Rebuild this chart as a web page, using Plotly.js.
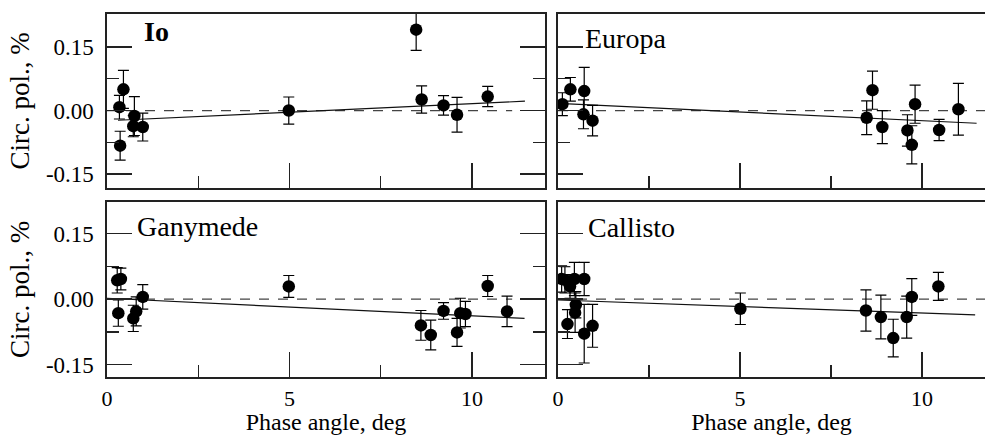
<!DOCTYPE html>
<html>
<head>
<meta charset="utf-8">
<script src="https://cdn.plot.ly/plotly-3.0.1.min.js"></script>
<style>html,body{margin:0;padding:0;background:#fff;}#chart{width:985px;height:435px;}</style>
</head>
<body>
<div id="chart"></div>
<script>
// ---- data (phase angle, deg ; circular polarization, %) ----
const ioX   = [0.34, 0.45, 0.36, 0.75, 0.72, 0.98, 4.98, 8.47, 8.62, 9.22, 9.59, 10.43];
const ioY   = [0.008, 0.050, -0.083, -0.013, -0.037, -0.039, 0.000, 0.191, 0.026, 0.012, -0.010, 0.033];
const ioErr = [0.028, 0.045, 0.034, 0.046, 0.025, 0.033, 0.032, 0.049, 0.032, 0.023, 0.041, 0.024];

const euX   = [0.12, 0.34, 0.72, 0.70, 0.95, 8.48, 8.64, 8.91, 9.60, 9.72, 9.81, 10.47, 11.0];
const euY   = [0.015, 0.050, 0.046, -0.009, -0.024, -0.017, 0.048, -0.039, -0.047, -0.081, 0.015, -0.046, 0.003];
const euErr = [0.027, 0.028, 0.056, 0.034, 0.036, 0.040, 0.045, 0.039, 0.037, 0.045, 0.045, 0.025, 0.061];

const gaX   = [0.28, 0.38, 0.31, 0.72, 0.80, 0.98, 4.98, 8.60, 8.87, 9.22, 9.59, 9.68, 9.82, 10.43, 10.96];
const gaY   = [0.043, 0.046, -0.032, -0.044, -0.028, 0.005, 0.029, -0.060, -0.082, -0.027, -0.076, -0.032, -0.034, 0.030, -0.028];
const gaErr = [0.029, 0.025, 0.030, 0.030, 0.033, 0.028, 0.025, 0.034, 0.034, 0.019, 0.032, 0.034, 0.029, 0.024, 0.035];

const caX   = [0.10, 0.19, 0.33, 0.45, 0.72, 0.49, 0.47, 0.26, 0.72, 0.95, 5.01, 8.46, 8.87, 9.21, 9.58, 9.72, 10.45];
const caY   = [0.046, 0.044, 0.029, 0.046, 0.046, -0.013, -0.031, -0.057, -0.079, -0.061, -0.022, -0.026, -0.041, -0.089, -0.041, 0.005, 0.029];
const caErr = [0.030, 0.030, 0.027, 0.038, 0.038, 0.030, 0.045, 0.033, 0.067, 0.049, 0.036, 0.047, 0.050, 0.043, 0.048, 0.042, 0.032];

// linear fits
const ioFitX = [0.3, 11.45];  const ioFitY = [-0.023, 0.022];
const euFitX = [0.0, 11.5];   const euFitY = [0.017, -0.030];
const gaFitX = [0.0, 11.44];  const gaFitY = [0.002, -0.044];
const caFitX = [0.0, 11.46];  const caFitY = [-0.002, -0.036];

// zero reference lines
const zeroLeftX  = [0, 11.1];
const zeroRightX = [0, 12];
const zeroY      = [0, 0];

// labels
const panelNames = ["Io", "Europa", "Ganymede", "Callisto"];
const yTickVals  = [0.15, 0.00, -0.15];
const yTickText  = ["0.15", "0.00", "-0.15"];
const yMinorVals = [0.075, -0.075];
const xTickVals  = [0, 5, 10];
const xTickText  = ["0", "5", "10"];
const xMinorVals = [2.5, 7.5];
const yTitle = "Circ. pol., %";
const xTitle = "Phase angle, deg";

// ---- traces ----
const FONT = "Liberation Serif, Times New Roman, serif";
const panels = [
  {x: ioX, y: ioY, e: ioErr, fx: ioFitX, fy: ioFitY, zx: zeroLeftX,  ax: ""},
  {x: euX, y: euY, e: euErr, fx: euFitX, fy: euFitY, zx: zeroRightX, ax: "2"},
  {x: gaX, y: gaY, e: gaErr, fx: gaFitX, fy: gaFitY, zx: zeroLeftX,  ax: "3"},
  {x: caX, y: caY, e: caErr, fx: caFitX, fy: caFitY, zx: zeroRightX, ax: "4"}
];
const traces = [];
panels.forEach(p => {
  const xa = "x" + p.ax, ya = "y" + p.ax;
  traces.push({x: p.zx, y: zeroY, xaxis: xa, yaxis: ya, mode: "lines", hoverinfo: "skip",
    line: {color: "#444", width: 1.2, dash: "10px,9px"}, showlegend: false});
  traces.push({x: p.fx, y: p.fy, xaxis: xa, yaxis: ya, mode: "lines", hoverinfo: "skip",
    line: {color: "#111", width: 1.2}, showlegend: false});
  traces.push({x: p.x, y: p.y, xaxis: xa, yaxis: ya, mode: "markers", type: "scatter",
    marker: {color: "#000", size: 12.5},
    error_y: {type: "data", array: p.e, visible: true, color: "#000", thickness: 1.2, width: 5.5},
    showlegend: false});
});

// ---- layout ----
const W = 985, H = 435;
const leftDom  = [107 / W, 545 / W];
const rightDom = [558 / W, 1];
const topDom   = [(H - 188) / H, (H - 14) / H];
const botDom   = [(H - 377) / H, (H - 202) / H];

function xAxis(dom, range, anchor, showLabels, mirror) {
  const a = {
    domain: dom, range: range, anchor: anchor,
    showline: true, linecolor: "#222", linewidth: 1.6, mirror: mirror,
    showgrid: false, zeroline: false,
    ticks: "inside", ticklen: 25, tickwidth: 1.4, tickcolor: "#222",
    tickvals: xTickVals, ticktext: xTickText,
    minor: {tickvals: xMinorVals, ticks: "inside", ticklen: 12, tickwidth: 1.4, tickcolor: "#222", showgrid: false},
    showticklabels: showLabels,
    tickfont: {family: FONT, size: 22, color: "#000"},
    ticklabelstandoff: 1
  };
  if (showLabels) a.title = {text: xTitle, font: {family: FONT, size: 24, color: "#000"}, standoff: 15};
  return a;
}
function yAxis(dom, range, anchor, showLabels, mirror) {
  const a = {
    domain: dom, range: range, anchor: anchor,
    showline: true, linecolor: "#222", linewidth: 1.6, mirror: mirror,
    showgrid: false, zeroline: false,
    ticks: "inside", ticklen: 25, tickwidth: 1.4, tickcolor: "#222",
    tickvals: yTickVals, ticktext: yTickText,
    minor: {tickvals: yMinorVals, ticks: "inside", ticklen: 12, tickwidth: 1.4, tickcolor: "#222", showgrid: false},
    showticklabels: showLabels,
    tickfont: {family: FONT, size: 23, color: "#000"},
    ticklabelstandoff: 7
  };
  if (showLabels) a.title = {text: yTitle, font: {family: FONT, size: 27, color: "#000"}, standoff: 8};
  return a;
}
const rightXMax = (W - 558) / 36.4;
const topRange = [-0.183, 0.228];
const botRange = [-0.178, 0.222];

const layout = {
  width: W, height: H,
  margin: {l: 0, r: 0, t: 0, b: 0},
  paper_bgcolor: "#fff", plot_bgcolor: "#fff",
  showlegend: false,
  xaxis:  xAxis(leftDom,  [0, 12],        "y",  false, true),
  yaxis:  yAxis(topDom,   topRange,       "x",  true,  "ticks"),
  xaxis2: xAxis(rightDom, [0, rightXMax], "y2", false, true),
  yaxis2: yAxis(topDom,   topRange,       "x2", false, false),
  xaxis3: xAxis(leftDom,  [0, 12],        "y3", true,  true),
  yaxis3: yAxis(botDom,   botRange,       "x3", true,  "ticks"),
  xaxis4: xAxis(rightDom, [0, rightXMax], "y4", true,  true),
  yaxis4: yAxis(botDom,   botRange,       "x4", false, false),
  annotations: [
    {text: panelNames[0], xref: "x",  yref: "y",  x: 0.95, y: 0.186, xanchor: "left", yanchor: "middle", showarrow: false,
     font: {family: FONT, size: 28, color: "#000", weight: "bold"}},
    {text: panelNames[1], xref: "x2", yref: "y2", x: 0.68, y: 0.169, xanchor: "left", yanchor: "middle", showarrow: false,
     font: {family: FONT, size: 28, color: "#000"}},
    {text: panelNames[2], xref: "x3", yref: "y3", x: 0.78, y: 0.166, xanchor: "left", yanchor: "middle", showarrow: false,
     font: {family: FONT, size: 28, color: "#000"}},
    {text: panelNames[3], xref: "x4", yref: "y4", x: 0.78, y: 0.163, xanchor: "left", yanchor: "middle", showarrow: false,
     font: {family: FONT, size: 28, color: "#000"}}
  ]
};

Plotly.newPlot("chart", traces, layout, {displayModeBar: false, staticPlot: true});
</script>
</body>
</html>
